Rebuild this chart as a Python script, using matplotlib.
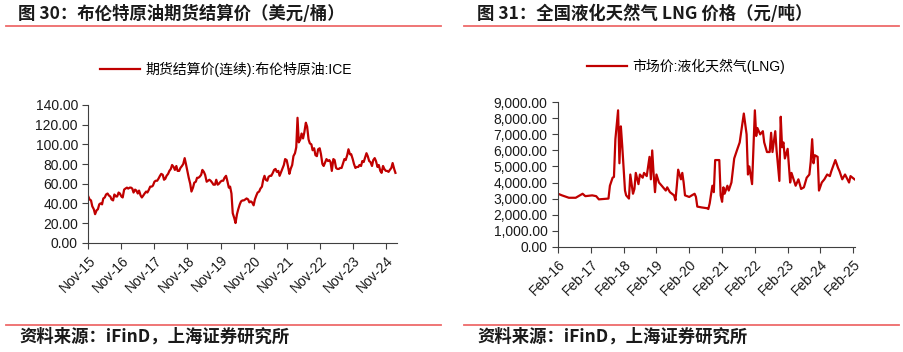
import matplotlib
matplotlib.use("Agg")
import matplotlib.pyplot as plt
import matplotlib.dates as mdates
from matplotlib.lines import Line2D
from matplotlib.ticker import FuncFormatter
import pandas as pd

plt.rcParams['font.family'] = ['Liberation Sans', 'Noto Sans CJK SC', 'DejaVu Sans']

# Brent futures settlement price, USD/bbl, twice a month from Nov 2015
brent_start = '2015-11-01'
brent_values = [
    47, 44, 43, 37,
    34, 29, 33, 34, 39, 40, 39, 45, 46, 49, 50, 48, 47, 44, 43, 49, 47, 47, 51, 50, 47, 46, 54, 55,
    56, 55, 56, 56, 55, 51, 54, 53, 50, 53, 48, 46, 48, 50, 52, 51, 54, 57, 57, 58, 62, 63, 63, 65,
    68, 70, 69, 64, 65, 68, 70, 73, 75, 79, 77, 74, 78, 73, 73, 76, 78, 80, 86, 80, 72, 66, 60, 52,
    56, 61, 62, 66, 66, 67, 69, 74, 72, 69, 62, 63, 64, 63, 61, 59, 59, 64, 59, 60, 62, 63, 63, 66,
    68, 63, 56, 57, 50, 30, 25, 20, 29, 34, 39, 42, 43, 43, 44, 45, 44, 41, 42, 41, 38, 44, 48, 51,
    52, 55, 57, 64, 68, 64, 63, 67, 68, 68, 71, 74, 75, 72, 73, 68, 72, 75, 79, 85, 84, 78, 70, 75,
    79, 88, 91, 97, 127, 102, 105, 111, 106, 112, 122, 118, 105, 101, 100, 94, 96, 89, 88, 95, 96, 90, 80, 78,
    82, 85, 83, 84, 82, 73, 85, 84, 76, 75, 75, 76, 76, 80, 85, 84, 89, 95, 90, 90, 85, 80, 76, 77,
    77, 79, 78, 83, 82, 86, 91, 88, 83, 82, 78, 84, 86, 83, 77, 79, 73, 71, 78, 75, 73, 73, 72, 74,
    76, 81, 75, 71,
]
brent_dates = pd.date_range(brent_start, periods=len(brent_values), freq='SMS')

# China LNG market price, CNY/t
lng_dates = [
    '2016-02-01', '2016-03-16', '2016-06-01', '2016-08-16', '2016-11-01', '2016-12-01',
    '2017-02-16', '2017-04-01', '2017-05-01', '2017-08-16', '2017-09-01', '2017-10-01',
    '2017-10-16', '2017-11-01', '2017-12-01', '2017-12-16', '2018-01-01', '2018-01-16',
    '2018-02-16', '2018-03-01', '2018-04-01', '2018-04-16', '2018-05-16', '2018-06-01',
    '2018-06-16', '2018-07-16', '2018-08-01', '2018-09-01', '2018-09-16', '2018-10-16',
    '2018-11-16', '2018-12-01', '2018-12-16', '2019-01-01', '2019-01-16', '2019-02-01',
    '2019-03-01', '2019-04-01', '2019-05-16', '2019-06-01', '2019-07-01', '2019-08-16',
    '2019-09-01', '2019-09-16', '2019-10-01', '2019-11-01', '2019-11-16', '2019-12-01',
    '2019-12-16', '2020-02-01', '2020-03-01', '2020-04-01', '2020-04-16', '2020-05-01',
    '2020-06-16', '2020-08-16', '2020-09-01', '2020-09-16', '2020-10-16', '2020-11-01',
    '2020-11-16', '2021-01-01', '2021-01-16', '2021-02-01', '2021-02-16', '2021-03-01',
    '2021-04-01', '2021-04-16', '2021-05-16', '2021-06-16', '2021-07-16', '2021-08-16',
    '2021-10-01', '2021-11-01', '2021-11-16', '2021-12-01', '2022-01-01', '2022-02-01',
    '2022-02-16', '2022-03-01', '2022-04-01', '2022-05-01', '2022-05-16', '2022-06-16',
    '2022-07-16', '2022-08-01', '2022-08-16', '2022-09-16', '2022-10-01', '2022-11-01',
    '2022-11-16', '2022-12-01', '2022-12-16', '2023-01-01', '2023-02-01', '2023-03-01',
    '2023-03-16', '2023-05-01', '2023-06-01', '2023-07-01', '2023-08-01', '2023-09-01',
    '2023-10-01', '2023-10-16', '2023-11-01', '2023-11-16', '2023-12-01', '2024-01-01',
    '2024-01-16', '2024-02-16', '2024-03-16', '2024-04-16', '2024-05-16', '2024-06-01',
    '2024-07-16', '2024-08-16', '2024-09-01', '2024-10-01', '2024-11-01', '2024-12-16',
    '2025-01-01', '2025-02-15',
]
lng_values = [
    3300, 3200, 3050, 3050, 3300, 3150,
    3200, 3150, 2950, 3000, 3800, 4300,
    4350, 6700, 8500, 5200, 7500, 6300,
    3500, 3200, 3000, 4500, 3300, 3600,
    4600, 3900, 4500, 4300, 4600, 4400,
    5600, 4200, 6000, 4500, 3400, 4500,
    4000, 3800, 3500, 3700, 3400, 3200,
    2900, 3800, 4800, 4200, 4600, 4000,
    3200, 3100, 3200, 3300, 3100, 2500,
    2450, 2400, 2350, 2700, 3800, 3400,
    5400, 5400, 3200, 2800, 3700, 3300,
    3800, 3500, 4000, 5500, 6000, 6500,
    8300, 7000, 4500, 5000, 3900, 8500,
    6900, 7400, 7000, 7200, 6500, 5900,
    5900, 7100, 5900, 7200, 6000, 4100,
    8100, 6200, 6500, 5500, 6100, 4000,
    4600, 3800, 4200, 3600, 3700, 4300,
    4500, 5300, 6700, 5200, 5700, 5600,
    3500, 4000, 4200, 4500, 4400, 4700,
    5400, 4900, 4700, 4200, 4500, 4000,
    4400, 4200,
]

red = '#C00000'
W, H = 904, 352
fig = plt.figure(figsize=(W / 100, H / 100), dpi=100)

def fx(px):
    return px / W

def fy(py):
    return 1 - py / H

def style_axes(ax):
    for s in ['top', 'right']:
        ax.spines[s].set_visible(False)
    for s in ['left', 'bottom']:
        ax.spines[s].set_color('#404040')
        ax.spines[s].set_linewidth(0.8)
    ax.tick_params(axis='both', direction='out', length=4, width=0.8,
                   color='#404040', labelsize=10, labelcolor='#1a1a1a')
    for lab in ax.get_xticklabels():
        lab.set_rotation(45)
        lab.set_ha('right')
        lab.set_rotation_mode('anchor')

# left: Brent
ax1 = fig.add_axes([fx(88.3), fy(242.7), fx(396.7 - 88.3), (242.7 - 105) / H])
ax1.plot(brent_dates, brent_values, color=red, lw=1.6, label='期货结算价(连续):布伦特原油:ICE')
ax1.set_ylim(0, 140)
ax1.set_yticks(range(0, 141, 20))
ax1.yaxis.set_major_formatter(FuncFormatter(lambda v, p: f'{v:.2f}'))
ax1.set_xlim(pd.Timestamp('2015-11-01'), pd.Timestamp('2025-03-01'))
ax1.set_xticks(pd.date_range('2015-11-01', '2024-11-01', freq='12MS'))
ax1.xaxis.set_major_formatter(mdates.DateFormatter('%b-%y'))
style_axes(ax1)
ax1.legend(loc='center left', bbox_to_anchor=(fx(100), fy(69)), bbox_transform=fig.transFigure,
           frameon=False, fontsize=10, handlelength=2.9, handletextpad=0.35,
           borderpad=0, borderaxespad=0)

# right: LNG
ax2 = fig.add_axes([fx(558), fy(246.7), fx(855 - 558), (246.7 - 102.3) / H])
ax2.plot(pd.to_datetime(lng_dates), lng_values, color=red, lw=1.6, label='市场价:液化天然气(LNG)')
ax2.set_ylim(0, 9000)
ax2.set_yticks(range(0, 9001, 1000))
ax2.yaxis.set_major_formatter(FuncFormatter(lambda v, p: f'{v:,.2f}'))
ax2.set_xlim(pd.Timestamp('2016-02-01'), pd.Timestamp('2025-02-20'))
ax2.set_xticks(pd.date_range('2016-02-01', '2025-02-01', freq='12MS'))
ax2.xaxis.set_major_formatter(mdates.DateFormatter('%b-%y'))
style_axes(ax2)
ax2.legend(loc='center left', bbox_to_anchor=(fx(587), fy(66)), bbox_transform=fig.transFigure,
           frameon=False, fontsize=10, handlelength=2.9, handletextpad=0.35,
           borderpad=0, borderaxespad=0)

# titles, rules and source notes
cjk_bold = dict(family=['Noto Sans CJK SC', 'DejaVu Sans'], weight='bold', color='#1a1a1a')
fig.text(fx(18), fy(14), '图 30：布伦特原油期货结算价（美元/桶）', fontsize=12.5, va='center', **cjk_bold)
fig.text(fx(477), fy(14), '图 31：全国液化天然气 LNG 价格（元/吨）', fontsize=12.5, va='center', **cjk_bold)
fig.text(fx(19), fy(337), '资料来源：iFinD，上海证券研究所', fontsize=12.5, va='center',
         style='italic', **cjk_bold)
fig.text(fx(477), fy(337), '资料来源：iFinD，上海证券研究所', fontsize=12.5, va='center',
         style='italic', **cjk_bold)

rule = '#EE6A6A'
for x0, x1 in [(6, 441), (464, 899)]:
    fig.add_artist(Line2D([fx(x0), fx(x1)], [fy(25.5), fy(25.5)], color=rule, lw=1.3))
    fig.add_artist(Line2D([fx(x0), fx(x1)], [fy(324.5), fy(324.5)], color=rule, lw=1.3))

fig.savefig('out.png', dpi=100)
